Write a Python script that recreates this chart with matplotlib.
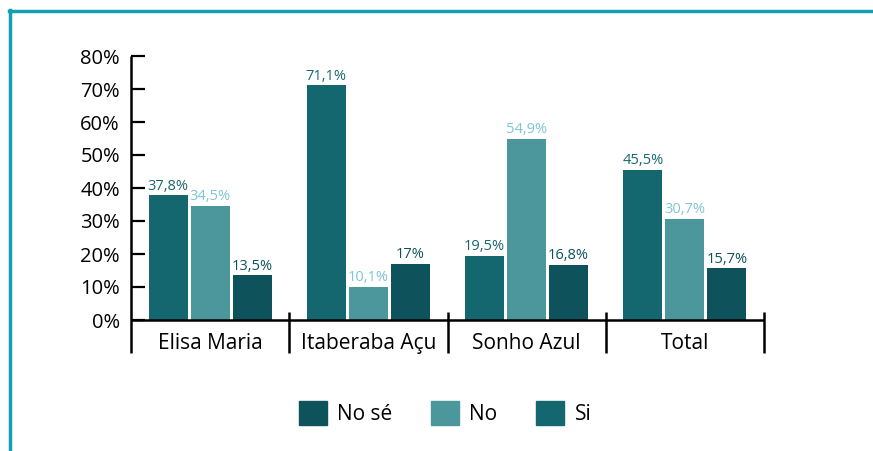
import numpy as np
import matplotlib
matplotlib.use("Agg")
from matplotlib import pyplot as plt
from matplotlib.patches import Patch
from matplotlib.lines import Line2D

plt.rcParams['font.family'] = ['Open Sans', 'DejaVu Sans']

categories = ["Elisa Maria", "Itaberaba Açu", "Sonho Azul", "Total"]
si = [37.8, 71.1, 19.5, 45.5]
no = [34.5, 10.1, 54.9, 30.7]
no_se = [13.5, 17.0, 16.8, 15.7]
yticks = [0, 10, 20, 30, 40, 50, 60, 70, 80]

c_si = "#14666f"
c_no = "#4b979b"
c_nose = "#0e535b"
lbl_si = "#1a6670"
lbl_no = "#7fc6d0"
lbl_nose = "#0e535b"


def fmt(v):
    if v == int(v):
        return "%d%%" % v
    return ("%.1f%%" % v).replace(".", ",")


fig = plt.figure(figsize=(8.73, 4.51), dpi=100)
ax = fig.add_axes([131 / 873, (451 - 320) / 451, 633 / 873, 264 / 451])

x = np.arange(len(categories))
w = 39 / 158.25
off = 42 / 158.25

series = [(si, c_si, lbl_si, -off), (no, c_no, lbl_no, 0), (no_se, c_nose, lbl_nose, off)]
for vals, col, lcol, dx in series:
    bars = ax.bar(x + dx, vals, width=w, color=col)
    for b, v in zip(bars, vals):
        ax.annotate(fmt(v), (b.get_x() + b.get_width() / 2, v), xytext=(0, 1.2),
                    textcoords="offset points", ha="center", va="bottom",
                    fontsize=10.5, color=lcol)

ax.set_xlim(-0.5, 3.5)
ax.set_ylim(0, 80)
for s in ax.spines.values():
    s.set_visible(False)

# axis lines and category separators
ax.plot([-0.5, -0.5], [-10, 80], color="black", lw=1.8, clip_on=False, solid_capstyle="butt")
ax.plot([-0.5, 3.5], [0, 0], color="black", lw=1.8, clip_on=False, solid_capstyle="butt")
for xb in [0.5, 1.5, 2.5, 3.5]:
    ax.plot([xb, xb], [-10, 2.4], color="black", lw=1.8, clip_on=False, solid_capstyle="butt")

ax.set_xticks([])
ax.set_yticks(yticks)
ax.set_yticklabels(["%d%%" % t for t in yticks], fontsize=14.5)
ax.tick_params(axis="y", direction="in", length=10, width=1.6, pad=8)

for i, c in enumerate(categories):
    ax.text(i, -7, c, ha="center", va="center", fontsize=15, clip_on=False)

handles = [Patch(color=c_nose, label="No sé"), Patch(color=c_no, label="No"),
           Patch(color=c_si, label="Si")]
fig.legend(handles=handles, loc="center", bbox_to_anchor=(445 / 873, (451 - 413) / 451),
           ncol=3, frameon=False, fontsize=15, handlelength=1.35, handleheight=1.35,
           handletextpad=0.5, columnspacing=1.85)

# teal frame lines
frame = "#12a0b0"
fig.add_artist(Line2D([9 / 873, 1], [1 - 11 / 451, 1 - 11 / 451], color=frame, lw=2.5,
                      transform=fig.transFigure))
fig.add_artist(Line2D([10 / 873, 10 / 873], [0, 1 - 10 / 451], color=frame, lw=2.5,
                      transform=fig.transFigure))

fig.savefig("out.png", dpi=100)
